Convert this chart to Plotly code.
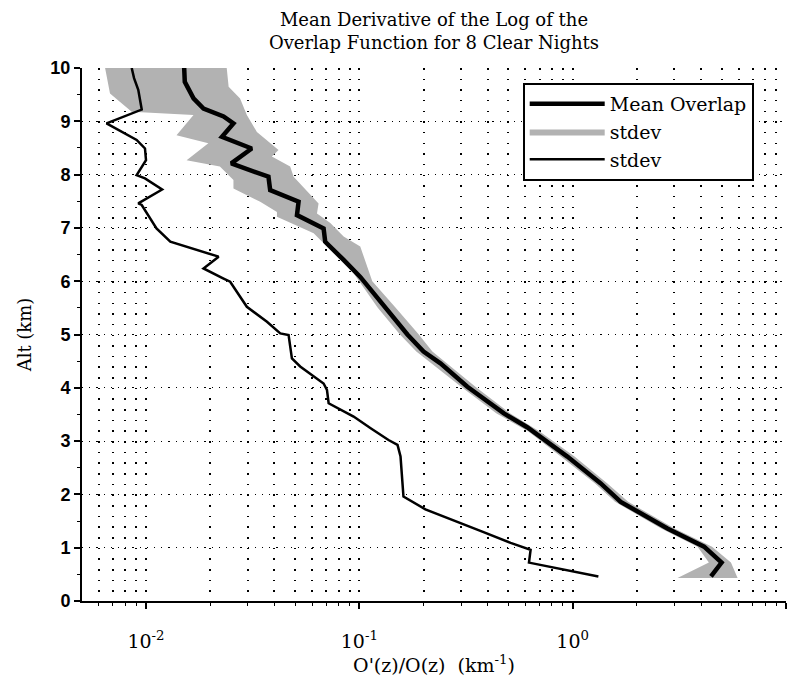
import plotly.graph_objects as go

# Mean overlap derivative (thick line)
mean_alt = [0.46, 0.72, 1.02, 1.36, 1.86, 2.21, 2.71, 3.18, 3.26, 3.52, 4.02, 4.46, 4.68, 5.0, 5.5,
            6.08, 6.40, 6.74, 6.99, 7.24, 7.49, 7.71, 7.96, 8.21, 8.49, 8.71, 8.96, 9.09, 9.24,
            9.43, 9.74, 10.0]
mean_val = [4.45, 4.99, 4.13, 2.78, 1.68, 1.35, 0.944, 0.658, 0.612, 0.476, 0.321, 0.24, 0.20,
            0.168, 0.132, 0.101, 0.0844, 0.0692, 0.068, 0.051, 0.0519, 0.0382, 0.0375, 0.0251,
            0.0313, 0.0227, 0.0257, 0.0231, 0.0186, 0.0167, 0.0152, 0.0151]

# Standard deviation (thin line)
sd_alt = [0.46, 0.58, 0.72, 0.96, 1.09, 1.30, 1.49, 1.72, 1.96, 2.71, 2.93, 3.02, 3.24, 3.46,
          3.71, 3.96, 4.08, 4.40, 4.55, 4.99, 5.02, 5.24, 5.52, 5.99, 6.05, 6.24, 6.46, 6.74,
          6.99, 7.43, 7.46, 7.72, 7.93, 7.99, 8.27, 8.49, 8.65, 8.96, 9.22, 9.59, 9.81, 10.0]
sd_val = [1.32, 0.927, 0.624, 0.635, 0.512, 0.377, 0.288, 0.204, 0.161, 0.156, 0.151, 0.137,
          0.113, 0.094, 0.0718, 0.0705, 0.068, 0.0528, 0.0483, 0.0466, 0.0426, 0.0369, 0.0297,
          0.0248, 0.0231, 0.0186, 0.0219, 0.0130, 0.0112, 0.00955, 0.0092, 0.0119, 0.00989,
          0.00904, 0.0100, 0.00989, 0.00904, 0.00653, 0.00955, 0.0092, 0.00879, 0.00857]

# Shaded stdev band: left and right edges
band_left_alt = [0.43, 0.72, 1.02, 1.36, 1.86, 2.21, 2.71, 3.18, 3.52, 4.02, 4.68, 5.0, 5.5,
                 6.15, 6.52, 6.90, 7.21, 7.30, 7.49, 7.74, 7.90, 8.15, 8.27, 8.59, 8.74, 9.12,
                 9.18, 9.34, 9.52, 10.0]
band_left_val = [3.10, 4.35, 3.85, 2.6, 1.58, 1.27, 0.88, 0.62, 0.44, 0.30, 0.185, 0.155, 0.122,
                 0.094, 0.0759, 0.0611, 0.0411, 0.0411, 0.0343, 0.0257, 0.0257, 0.0222, 0.0155,
                 0.0196, 0.0139, 0.0167, 0.00857, 0.00769, 0.00678, 0.00643]
band_right_alt = [0.43, 0.72, 1.02, 1.36, 1.86, 2.21, 2.71, 3.18, 3.52, 4.02, 4.68, 5.0, 5.5,
                  6.0, 6.65, 6.84, 7.09, 7.27, 7.46, 7.96, 8.15, 8.34, 8.46, 8.80, 9.12, 9.43,
                  9.65, 10.0]
band_right_val = [5.93, 5.52, 4.5, 3.0, 1.82, 1.45, 1.02, 0.70, 0.51, 0.35, 0.22, 0.19, 0.148,
                  0.115, 0.101, 0.0844, 0.0731, 0.0633, 0.0644, 0.0492, 0.0474, 0.0389, 0.0418,
                  0.0331, 0.0297, 0.0276, 0.0244, 0.0239]

x_tickvals = [0.01, 0.1, 1, 10]
x_ticktext = ["10<sup>-2</sup>", "10<sup>-1</sup>", "10<sup>0</sup>", "10<sup>1</sup>"]
x_minor = [m * 10.0 ** e for e in (-3, -2, -1, 0) for m in range(2, 10)]

SERIF = "DejaVu Serif"
GRAY = "rgb(178,178,178)"

fig = go.Figure()
fig.add_trace(go.Scatter(
    x=band_left_val + band_right_val[::-1],
    y=band_left_alt + band_right_alt[::-1],
    mode="lines", line=dict(width=0, color=GRAY),
    fill="toself", fillcolor=GRAY,
    name="stdev", legendrank=2, hoverinfo="skip"))
fig.add_trace(go.Scatter(x=sd_val, y=sd_alt, mode="lines",
                         line=dict(color="black", width=2.5), name="stdev", legendrank=3))
fig.add_trace(go.Scatter(x=mean_val, y=mean_alt, mode="lines",
                         line=dict(color="black", width=4.5), name="Mean Overlap", legendrank=1))

fig.update_layout(
    width=800, height=685,
    margin=dict(l=82, r=14, t=68, b=84),
    paper_bgcolor="white", plot_bgcolor="white",
    title=dict(text="Mean Derivative of the Log of the<br>Overlap Function for 8 Clear Nights",
               x=0.5425, xanchor="center", y=0.962, yanchor="middle",
               font=dict(family=SERIF, size=18, color="black")),
    legend=dict(x=0.626, y=0.972, xanchor="left", yanchor="top",
                bgcolor="white", bordercolor="black", borderwidth=2,
                font=dict(family=SERIF, size=19, color="black"),
                itemwidth=75, tracegroupgap=0),
    showlegend=True,
)

fig.update_xaxes(
    type="log", range=[-2.3, 1.0],
    tickmode="array", tickvals=x_tickvals, ticktext=x_ticktext,
    ticks="outside", ticklen=6, tickwidth=1.5, tickcolor="black",
    tickfont=dict(family=SERIF, size=19, color="black"),
    ticklabelstandoff=16,
    showline=True, linecolor="black", linewidth=2,
    showgrid=True, gridcolor="black", gridwidth=1.5, griddash="1.5px,9.16px",
    minor=dict(tickmode="array", tickvals=x_minor, ticks="outside", ticklen=3,
               tickcolor="black", tickwidth=1.2,
               showgrid=True, gridcolor="black", gridwidth=1.5, griddash="1.5px,9.16px"),
    zeroline=False,
    title=dict(text="O'(z)/O(z)\u00a0\u00a0(km<sup>-1</sup>)",
               font=dict(family=SERIF, size=19, color="black"), standoff=8),
)
fig.update_yaxes(
    range=[0, 10], dtick=1,
    ticks="outside", ticklen=6, tickwidth=1.5, tickcolor="black",
    tickfont=dict(family="Liberation Sans", size=18, color="black", weight="bold"),
    showline=True, linecolor="black", linewidth=2,
    showgrid=True, gridcolor="black", gridwidth=1.2, griddash="1.2px,6px",
    minor=dict(dtick=0.5, ticks="outside", ticklen=3, tickcolor="black", tickwidth=1.2,
               showgrid=False),
    zeroline=False,
    title=dict(text="Alt (km)", font=dict(family=SERIF, size=18, color="black"), standoff=14),
)

fig.write_html("out.html")
